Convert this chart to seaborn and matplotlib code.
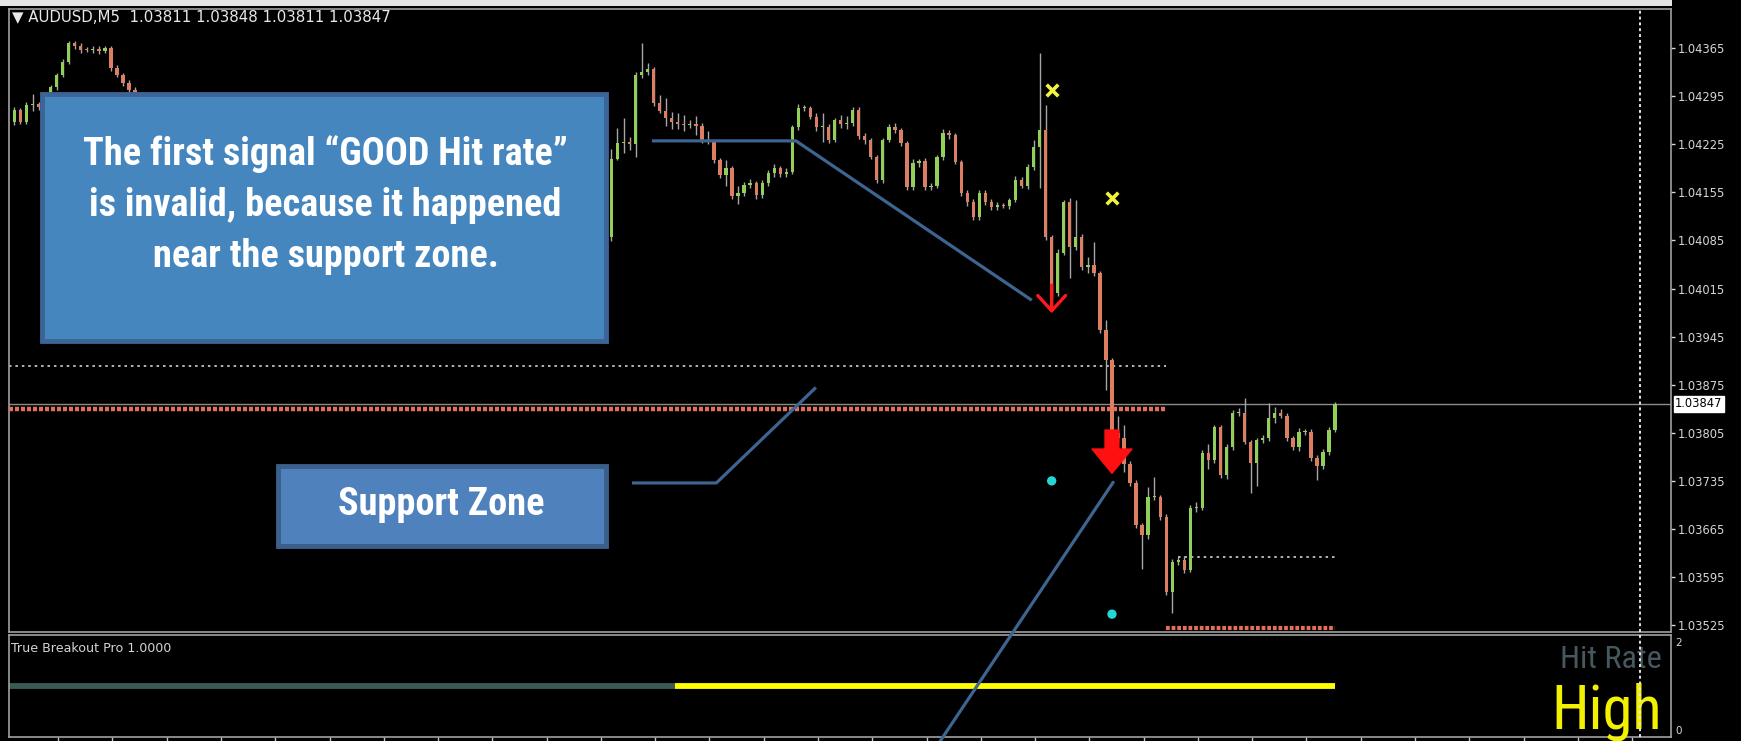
import numpy as np
import pandas as pd
import matplotlib
matplotlib.use("Agg")
import matplotlib.pyplot as plt
from matplotlib import font_manager
from matplotlib.lines import Line2D
from matplotlib.patches import Rectangle
import seaborn as sns

# AUDUSD M5 bars, prices in points above 1.03000 (1 pt = 0.00001)
base = 1.03
first_open = 1257
closes = [
    1275, 1258, 1282, 1283, 1279, 1290, 1308, 1326, 1345, 1372, 1368, 1363, 1362, 1364, 1361, 1365, 1336, 1326, 1314, 1304,
    1296, 1288, 1280, 1284, 1272, 1265, 1270, 1258, 1250, 1255, 1246, 1238, 1242, 1230, 1225, 1232, 1228, 1218, 1212, 1220,
    1226, 1219, 1210, 1204, 1198, 1205, 1212, 1206, 1195, 1188, 1192, 1200, 1196, 1185, 1178, 1182, 1190, 1198, 1204, 1196,
    1189, 1194, 1186, 1175, 1168, 1172, 1180, 1176, 1166, 1158, 1163, 1170, 1178, 1174, 1165, 1160, 1152, 1158, 1166, 1160,
    1150, 1144, 1150, 1158, 1154, 1146, 1138, 1132, 1140, 1136, 1126, 1118, 1124, 1115, 1106, 1112, 1102, 1095, 1090, 1204,
    1227, 1228, 1226, 1326, 1330, 1334, 1285, 1273, 1263, 1258, 1254, 1253, 1254, 1252, 1231, 1228, 1202, 1180, 1190, 1150,
    1154, 1166, 1168, 1151, 1168, 1183, 1190, 1182, 1185, 1250, 1278, 1278, 1265, 1250, 1250, 1231, 1260, 1255, 1256, 1275,
    1237, 1231, 1206, 1173, 1231, 1250, 1246, 1227, 1163, 1198, 1200, 1163, 1165, 1206, 1241, 1238, 1199, 1154, 1141, 1119,
    1154, 1141, 1134, 1136, 1135, 1144, 1173, 1165, 1192, 1221, 1246, 1090, 1008, 1067, 1141, 1075, 1090, 1046, 1050, 1037,
    954, 911, 805, 797, 760, 732, 671, 656, 711, 711, 682, 573, 617, 620, 605, 696, 696, 776, 765, 813,
    743, 784, 834, 834, 791, 761, 794, 797, 826, 834, 830, 797, 784, 806, 806, 768, 757, 777, 809, 847,
]
wick_up = [
    4, 3, 4, 15, 4, 4, 3, 3, 4, 4, 4, 5, 3, 4, 4, 3, 3, 4, 3, 4,
    4, 5, 3, 6, 4, 5, 3, 4, 6, 5, 4, 3, 5, 4, 6, 3, 5, 4, 3, 6,
    4, 5, 3, 6, 5, 4, 3, 5, 4, 6, 3, 5, 4, 6, 3, 5, 4, 6, 5, 3,
    5, 4, 6, 3, 5, 4, 3, 6, 5, 4, 3, 5, 6, 4, 3, 5, 4, 6, 5, 3,
    4, 5, 3, 6, 4, 5, 3, 4, 6, 5, 4, 3, 5, 4, 6, 3, 5, 4, 3, 14,
    22, 35, 8, 4, 42, 10, 4, 12, 20, 9, 12, 14, 7, 12, 4, 14, 4, 3, 12, 4,
    10, 4, 6, 4, 5, 4, 6, 4, 5, 3, 6, 4, 3, 5, 20, 4, 3, 8, 10, 4,
    4, 5, 3, 4, 3, 4, 6, 3, 3, 6, 4, 5, 3, 4, 6, 5, 4, 3, 4, 4,
    5, 4, 4, 5, 4, 3, 6, 4, 5, 10, 112, 36, 3, 5, 3, 6, 54, 4, 11, 33,
    4, 15, 3, 25, 20, 4, 4, 3, 15, 29, 4, 5, 4, 4, 6, 4, 8, 4, 12, 4,
    4, 5, 4, 7, 21, 4, 4, 5, 22, 8, 5, 4, 4, 6, 5, 4, 4, 4, 4, 3,
]
wick_dn = [
    4, 4, 3, 8, 4, 5, 3, 4, 3, 3, 4, 5, 3, 4, 4, 3, 4, 3, 4, 4,
    5, 4, 6, 3, 5, 4, 6, 3, 5, 4, 3, 6, 4, 5, 3, 4, 6, 5, 4, 3,
    5, 3, 6, 4, 5, 4, 3, 6, 5, 4, 6, 3, 5, 4, 6, 3, 5, 4, 3, 5,
    4, 6, 3, 5, 4, 6, 3, 5, 4, 3, 6, 5, 4, 3, 5, 6, 4, 3, 5, 4,
    6, 3, 5, 4, 3, 5, 6, 4, 5, 3, 4, 6, 3, 5, 4, 6, 3, 5, 4, 6,
    2, 15, 10, 20, 5, 4, 4, 3, 12, 10, 6, 8, 4, 14, 4, 3, 4, 4, 16, 4,
    12, 4, 5, 5, 4, 3, 6, 4, 4, 3, 4, 4, 3, 5, 22, 4, 3, 6, 8, 4,
    4, 6, 3, 4, 4, 3, 5, 4, 4, 4, 6, 5, 4, 3, 4, 5, 3, 4, 6, 4,
    4, 5, 4, 4, 3, 4, 3, 4, 5, 4, 60, 5, 8, 4, 3, 45, 4, 4, 9, 4,
    4, 44, 4, 4, 12, 4, 4, 50, 5, 4, 4, 4, 30, 5, 4, 3, 6, 4, 12, 4,
    4, 5, 4, 4, 3, 43, 33, 4, 4, 6, 4, 4, 4, 5, 4, 4, 20, 4, 4, 3,
]

header = "\u25bc AUDUSD,M5  1.03811 1.03848 1.03811 1.03847"
price_ticks = [1.04365, 1.04295, 1.04225, 1.04155, 1.04085, 1.04015, 1.03945,
               1.03875, 1.03805, 1.03735, 1.03665, 1.03595, 1.03525]
last_price = 1.03847

# indicator signals
cross_x = [172, 182]
cross_y = [1.04304, 1.04147]
dot_x = [172, 182]
dot_y = [1.03735, 1.03541]
warn_arrow = (172, 1.04020, 1.03979)   # bar, top, tip
sell_arrow = (182, 1.03809, 1.03746)

# breakout levels
upper_dotted = 1.03902
support_level = 1.03839
lower_dotted = 1.03624
lower_support = 1.03521
upper_end = 191
lower_dotted_start = 193
lower_support_start = 191

# hit rate indicator (sub window)
hit_start = [-1, 109.5]
hit_end = [109.5, 219]
hit_level = ["Low", "High"]

# callouts
box_lines = ["The first signal \u201cGOOD Hit rate\u201d",
             "is invalid, because it happened",
             "near the support zone."]
callout1_x = [105.7, 129.6, 168.7]
callout1_y = [1.04230, 1.04230, 1.03998]
callout2_x = [102.4, 116.4, 132.9]
callout2_y = [1.03732, 1.03732, 1.03871]
callout3_x = [182.2, 153.5]
callout3_y = [1.03733, 1.03356]

sns.set_theme(style="dark")
plt.rcParams["font.family"] = ["DejaVu Sans"]

# pick a narrow face if one is installed
entries = font_manager.fontManager.ttflist
names = {f.name for f in entries}
narrow, stretch = "Roboto", "normal"
for cand in ["Liberation Sans Narrow", "Roboto Condensed", "Open Sans Condensed", "Noto Sans Condensed",
             "DejaVu Sans Condensed", "Arial Narrow"]:
    if cand in names:
        narrow = cand
        break
else:
    cond = [f for f in entries if str(f.stretch) in ("condensed", "semi-condensed", "extra-condensed")]
    if cond:
        narrow, stretch = cond[0].name, str(cond[0].stretch)
    elif "Roboto" not in names:
        narrow = "DejaVu Sans"

df = pd.DataFrame({"close": base + np.array(closes) / 1e5})
df["open"] = df["close"].shift(1)
df.loc[0, "open"] = base + first_open / 1e5
df["high"] = df[["open", "close"]].max(axis=1) + np.array(wick_up) / 1e5
df["low"] = df[["open", "close"]].min(axis=1) - np.array(wick_dn) / 1e5
df["bar"] = np.arange(len(df))
df["bull"] = df["close"] >= df["open"]

W, H = 1741, 741
fig = plt.figure(figsize=(W / 100, H / 100), dpi=100, facecolor="black")
ax = fig.add_axes([9 / W, 1 - 632 / H, 1662 / W, 623 / H])
ax2 = fig.add_axes([9 / W, 1 - 737 / H, 1662 / W, 102 / H])
fig.add_artist(Rectangle((0, 1 - 6 / H), 1672 / W, 6 / H, transform=fig.transFigure,
                         color="#e4e4e4", lw=0))

for a in (ax, ax2):
    a.set_facecolor("black")
    for s in a.spines.values():
        s.set_color("#a0a0a0")
        s.set_linewidth(1.2)
    a.set_xlim(-0.9, 274.7)
    a.grid(False)

ax.set_ylim(1.03515, 1.04422)

# candles
ax.vlines(df["bar"], df["low"], df["high"], color="#a6a6a6", lw=1, zorder=2)
body_bottom = df[["open", "close"]].min(axis=1)
body_h = (df["close"] - df["open"]).abs().clip(lower=0.000015)
ax.bar(df["bar"], body_h, bottom=body_bottom, width=0.55,
       color=np.where(df["bull"], "#92cf58", "#dd7e62"), lw=0, zorder=3)

# levels
ax.axhline(last_price, color="#8c8c8c", lw=1, zorder=1)
ax.hlines(upper_dotted, -0.9, upper_end, color="#b4b4b4", lw=1.4, linestyles=[(0, (1.3, 2.0))], zorder=2)
ax.hlines(support_level, -0.9, upper_end, color="#e2705a", lw=3.2, linestyles=[(0, (0.9, 0.45))], zorder=4)
ax.hlines(lower_dotted, lower_dotted_start, 219, color="#b4b4b4", lw=1.4, linestyles=[(0, (1.3, 2.0))], zorder=2)
ax.hlines(lower_support, lower_support_start, 219, color="#e2705a", lw=3.0, linestyles=[(0, (0.9, 0.45))], zorder=4)
ax.axvline(269.5, color="#e6e6e6", lw=1.4, ls=(0, (1.5, 1.5)), zorder=5)
ax2.axvline(269.5, color="#e6e6e6", lw=1.4, ls=(0, (1.5, 1.5)), zorder=5)

# signals
sns.scatterplot(x=cross_x, y=cross_y, marker="x", s=70, color="#f3f33c", linewidth=2.6, ax=ax, zorder=6)
sns.scatterplot(x=dot_x, y=dot_y, marker="o", s=45, color="#25d6d6", edgecolor="none", ax=ax, zorder=6)
ax.annotate("", xy=(warn_arrow[0], warn_arrow[2]), xytext=(warn_arrow[0], warn_arrow[1]),
            arrowprops=dict(arrowstyle="->,head_length=0.55,head_width=0.5", color="#ff1a1a",
                            lw=2.4, mutation_scale=20, shrinkA=0, shrinkB=0), zorder=7)
ax.annotate("", xy=(sell_arrow[0], sell_arrow[2]), xytext=(sell_arrow[0], sell_arrow[1]),
            arrowprops=dict(arrowstyle="simple,head_length=0.7,head_width=1.15,tail_width=0.4",
                            color="#ff1010", mutation_scale=25, shrinkA=0, shrinkB=0), zorder=7)

# y axis on the right
ax.yaxis.tick_right()
ax.set_yticks(price_ticks)
ax.set_yticklabels([f"{p:.5f}" for p in price_ticks])
ax.tick_params(axis="y", colors="#d6d6d6", labelsize=8.3, length=3, width=1, pad=2, right=True, left=False)
ax.tick_params(axis="x", bottom=False, labelbottom=False)
ax.text(1.0025, last_price, f"{last_price:.5f}", transform=ax.get_yaxis_transform(),
        ha="left", va="center", fontsize=8.3, color="black",
        bbox=dict(boxstyle="square,pad=0.12", fc="white", ec="white"), zorder=8, clip_on=False)
header_t = ax.text(0.0018, 0.9856, header, transform=ax.transAxes, ha="left", va="center",
                   fontsize=9.5, color="#e8e8e8", zorder=8)

# callout boxes
ax.add_patch(Rectangle((0.0199, 0.4671), 0.3393, 0.3965, transform=ax.transAxes,
                       fc="#4586bf", ec="#3c6496", lw=3.5, zorder=10))
ax.add_patch(Rectangle((0.1619, 0.138), 0.1973, 0.1285, transform=ax.transAxes,
                       fc="#4f81bd", ec="#3b5f8b", lw=3.5, zorder=10))
box_texts = []
for txt, fy in zip(box_lines, [0.7673, 0.6838, 0.6035]):
    box_texts.append(ax.text(0.1905, fy, txt, transform=ax.transAxes, ha="center", va="center",
                             color="white", fontweight="bold", family=narrow, fontstretch=stretch,
                             fontsize=20, zorder=11))
zone_t = ax.text(0.26, 0.2039, "Support Zone", transform=ax.transAxes, ha="center", va="center",
                 color="white", fontweight="bold", family=narrow, fontstretch=stretch,
                 fontsize=20, zorder=11)
ax.plot(callout1_x, callout1_y, color="#3e6491", lw=2.3, zorder=12, solid_capstyle="butt")
ax.plot(callout2_x, callout2_y, color="#3e6491", lw=2.3, zorder=12, solid_capstyle="butt")
fig.add_artist(Line2D(callout3_x, callout3_y, transform=ax.transData, color="#3e6491", lw=2.3, zorder=12))

# sub window
hit_df = pd.DataFrame({
    "bar": hit_start + hit_end,
    "val": [1.0] * 4,
    "level": hit_level + hit_level,
})
sns.lineplot(data=hit_df, x="bar", y="val", hue="level", palette={"Low": "#3c5a55", "High": "#ffff00"},
             linewidth=4.2, legend=False, ax=ax2, solid_capstyle="butt")
ax2.set_ylim(-0.15, 2.15)
ax2.set_xlabel("")
ax2.set_ylabel("")
ax2.yaxis.tick_right()
ax2.set_yticks([0, 2])
ax2.set_yticklabels(["0", "2"])
ax2.tick_params(axis="y", colors="#d6d6d6", labelsize=7.5, length=0, pad=3, right=True, left=False)
ax2.set_xticks(np.arange(7.25, 274, 9))
ax2.tick_params(axis="x", colors="#c8c8c8", direction="out", length=3, width=1,
                bottom=True, labelbottom=False)
name_t = ax2.text(0.0012, 0.863, "True Breakout Pro 1.0000", transform=ax2.transAxes, ha="left",
                  va="center", fontsize=7.5, color="#d4d4d4")
rate_t = ax2.text(0.9946, 0.755, "Hit Rate", transform=ax2.transAxes, ha="right", va="center",
                  fontsize=18, color="#46585e", family=narrow, fontstretch=stretch, zorder=3)
high_t = ax2.text(0.9946, 0.088, "High", transform=ax2.transAxes, ha="right", va="baseline",
                  fontsize=40, color="#f2f200", family=narrow, fontstretch=stretch, zorder=3)

# fit text widths to the screenshot
fig.canvas.draw()
r = fig.canvas.get_renderer()


def fit(t, width_px):
    w = t.get_window_extent(r).width
    t.set_fontsize(t.get_fontsize() * width_px / w)


fit(box_texts[0], 483)
for t in box_texts[1:]:
    t.set_fontsize(box_texts[0].get_fontsize())
zone_t.set_fontsize(box_texts[0].get_fontsize())
fit(header_t, 383)
fit(name_t, 159)
fit(rate_t, 102)
fit(high_t, 111)

fig.savefig("out.png", dpi=100, facecolor="black")
